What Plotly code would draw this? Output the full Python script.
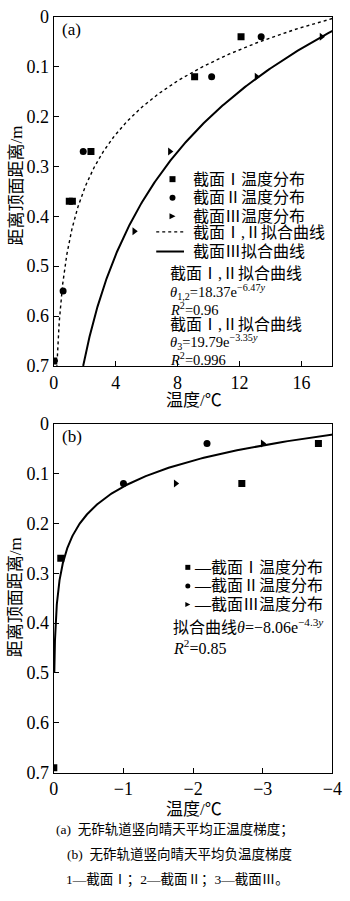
import numpy as np
import plotly.graph_objects as go

W, H = 350, 901

# ---- panel (a): positive temperature gradient ----
a_sec1_temp = [0.0, 1.0, 1.2, 2.4, 9.1, 12.1]
a_sec1_depth = [0.69, 0.37, 0.37, 0.27, 0.12, 0.04]
a_sec2_temp = [0.6, 1.9, 10.2, 13.4]
a_sec2_depth = [0.55, 0.27, 0.12, 0.04]
a_sec3_temp = [5.2, 7.5, 13.1, 17.3]
a_sec3_depth = [0.43, 0.27, 0.12, 0.04]
fit12_coef = (18.37, -6.47)
fit3_coef = (19.79, -3.35)

# ---- panel (b): negative temperature gradient ----
b_sec1_temp = [0.0, -0.1, -2.7, -3.8]
b_sec1_depth = [0.69, 0.27, 0.12, 0.04]
b_sec2_temp = [-1.0, -2.2]
b_sec2_depth = [0.12, 0.04]
b_sec3_temp = [-1.75, -3.0]
b_sec3_depth = [0.12, 0.04]
fitb_coef = (-5.36, -13.3)

a_xticks = [0, 4, 8, 12, 16]
b_xticks = [0, -1, -2, -3, -4]
y_ticks = [0, 0.1, 0.2, 0.3, 0.4, 0.5, 0.6, 0.7]

SERIF = "Times New Roman, Liberation Serif, Noto Sans CJK SC, serif"


def px(x):
    return x / W


def py(y):
    return 1 - y / H


fig = go.Figure()


def add_points(xs, ys, symbol, xa, ya, size=7):
    fig.add_trace(go.Scatter(x=xs, y=ys, mode="markers", xaxis=xa, yaxis=ya,
                             marker=dict(color="black", size=size, symbol=symbol),
                             showlegend=False, hoverinfo="skip"))


# fitted curves of panel (a)
ya_curve = np.linspace(0.0, 0.7, 300)
fig.add_trace(go.Scatter(x=fit12_coef[0] * np.exp(fit12_coef[1] * ya_curve), y=ya_curve,
                         mode="lines", xaxis="x", yaxis="y",
                         line=dict(color="black", width=1.4, dash="dot"),
                         showlegend=False, hoverinfo="skip"))
fig.add_trace(go.Scatter(x=fit3_coef[0] * np.exp(fit3_coef[1] * ya_curve), y=ya_curve,
                         mode="lines", xaxis="x", yaxis="y",
                         line=dict(color="black", width=2),
                         showlegend=False, hoverinfo="skip"))
add_points(a_sec1_temp, a_sec1_depth, "square", "x", "y")
add_points(a_sec2_temp, a_sec2_depth, "circle", "x", "y")
add_points(a_sec3_temp, a_sec3_depth, "triangle-right", "x", "y")

# fitted curve of panel (b)
yb_curve = np.linspace(0.0, 0.5, 300)
fig.add_trace(go.Scatter(x=fitb_coef[0] * np.exp(fitb_coef[1] * yb_curve), y=yb_curve,
                         mode="lines", xaxis="x2", yaxis="y2",
                         line=dict(color="black", width=2),
                         showlegend=False, hoverinfo="skip"))
add_points(b_sec1_temp, b_sec1_depth, "square", "x2", "y2")
add_points(b_sec2_temp, b_sec2_depth, "circle", "x2", "y2")
add_points(b_sec3_temp, b_sec3_depth, "triangle-right", "x2", "y2")

axis_common = dict(showline=True, linecolor="black", linewidth=1.3, mirror=True,
                   ticks="inside", ticklen=5, tickwidth=1.2, tickcolor="black",
                   showgrid=False, zeroline=False, ticklabeloverflow="allow",
                   tickfont=dict(family=SERIF, size=18, color="black"))

xdom = [px(51), px(342)]
fig.update_layout(
    width=W, height=H, margin=dict(l=0, r=0, t=0, b=0),
    paper_bgcolor="white", plot_bgcolor="white",
    xaxis=dict(domain=xdom, range=[0, 18], tickvals=a_xticks,
               ticktext=[str(v) for v in a_xticks], anchor="y", **axis_common),
    yaxis=dict(domain=[py(364), py(7)], range=[0.7, 0], tickvals=y_ticks,
               ticktext=[f"{v:g}" for v in y_ticks], anchor="x", **axis_common),
    xaxis2=dict(domain=xdom, range=[0, -4], tickvals=b_xticks,
                ticktext=["0" if v == 0 else f"\u2212{abs(v)}" for v in b_xticks],
                anchor="y2", **axis_common),
    yaxis2=dict(domain=[py(780), py(423)], range=[0.7, 0], tickvals=y_ticks,
                ticktext=[f"{v:g}" for v in y_ticks], anchor="x2", **axis_common),
)

ann = []
shapes = []


def text(x, y, s, size=16, anchor="left", angle=0):
    ann.append(dict(x=px(x), y=py(y), xref="paper", yref="paper", text=s,
                    showarrow=False, xanchor=anchor, yanchor="middle",
                    textangle=angle,
                    font=dict(family=SERIF, size=size, color="black")))


def marker_shape(cx, cy, kind, s):
    base = dict(xref="paper", yref="paper", xsizemode="pixel", ysizemode="pixel",
                xanchor=px(cx), yanchor=py(cy), fillcolor="black",
                line=dict(color="black", width=0))
    if kind == "square":
        shapes.append(dict(type="rect", x0=-s / 2, x1=s / 2, y0=-s / 2, y1=s / 2, **base))
    elif kind == "circle":
        shapes.append(dict(type="circle", x0=-s / 2, x1=s / 2, y0=-s / 2, y1=s / 2, **base))
    else:
        shapes.append(dict(type="path",
                           path=f"M{-s/2},{s/2} L{s/2},0 L{-s/2},{-s/2} Z", **base))


def hline(x0, x1, y, dash="solid", width=1.5):
    shapes.append(dict(type="line", xref="paper", yref="paper",
                       x0=px(x0), x1=px(x1), y0=py(y), y1=py(y),
                       line=dict(color="black", width=width, dash=dash)))


# panel labels
text(57, 20, "(a)", 17)
text(57, 436, "(b)", 17)

# legend of panel (a)
marker_shape(175, 173, "square", 6)
marker_shape(175, 192, "circle", 6)
marker_shape(175, 211, "triangle", 6)
text(194, 173, "截面Ⅰ温度分布")
text(194, 192, "截面Ⅱ温度分布")
text(194, 211, "截面Ⅲ温度分布")
hline(158, 187, 227, dash="dot", width=1.3)
hline(158, 187, 247, width=2)
text(194, 228, "截面Ⅰ,Ⅱ拟合曲线")
text(194, 247, "截面Ⅲ拟合曲线")
text(170, 269, "截面Ⅰ,Ⅱ拟合曲线")
text(170, 288, "<i>θ</i><sub>1,2</sub>=18.37e<sup>−6.47<i>y</i></sup>", 14.5)
text(170, 306, "<i>R</i><sup>2</sup>=0.96", 14.5)
text(170, 322, "截面Ⅰ,Ⅱ拟合曲线")
text(170, 340, "<i>θ</i><sub>3</sub>=19.79e<sup>−3.35<i>y</i></sup>", 14.5)
text(170, 357, "<i>R</i><sup>2</sup>=0.996", 14.5)

# legend of panel (b)
marker_shape(191, 570, "square", 5)
marker_shape(191, 589, "circle", 5)
marker_shape(191, 608, "triangle", 5)
text(195, 570, "—截面Ⅰ温度分布")
text(195, 589, "—截面Ⅱ温度分布")
text(195, 608, "—截面Ⅲ温度分布")
text(173, 630, "拟合曲线<i>θ</i>=−8.06e<sup>−4.3<i>y</i></sup>")
text(173, 651, "<i>R</i><sup>2</sup>=0.85")

# axis titles
text(11, 180, "距离顶面距离/m", 17, anchor="center", angle=-90)
text(11, 601, "距离顶面距离/m", 17, anchor="center", angle=-90)
text(197, 399, "温度/℃", 17, anchor="center")
text(197, 818, "温度/℃", 17, anchor="center")

# captions
text(178, 839, "(a)  无砟轨道竖向晴天平均正温度梯度；", 13.5, anchor="center")
text(182, 864, "(b)  无砟轨道竖向晴天平均负温度梯度", 13.5, anchor="center")
text(180, 890, "1—截面Ⅰ；2—截面Ⅱ；3—截面Ⅲ。", 13.5, anchor="center")

fig.update_layout(annotations=ann, shapes=shapes)
fig.write_html("out.html")
